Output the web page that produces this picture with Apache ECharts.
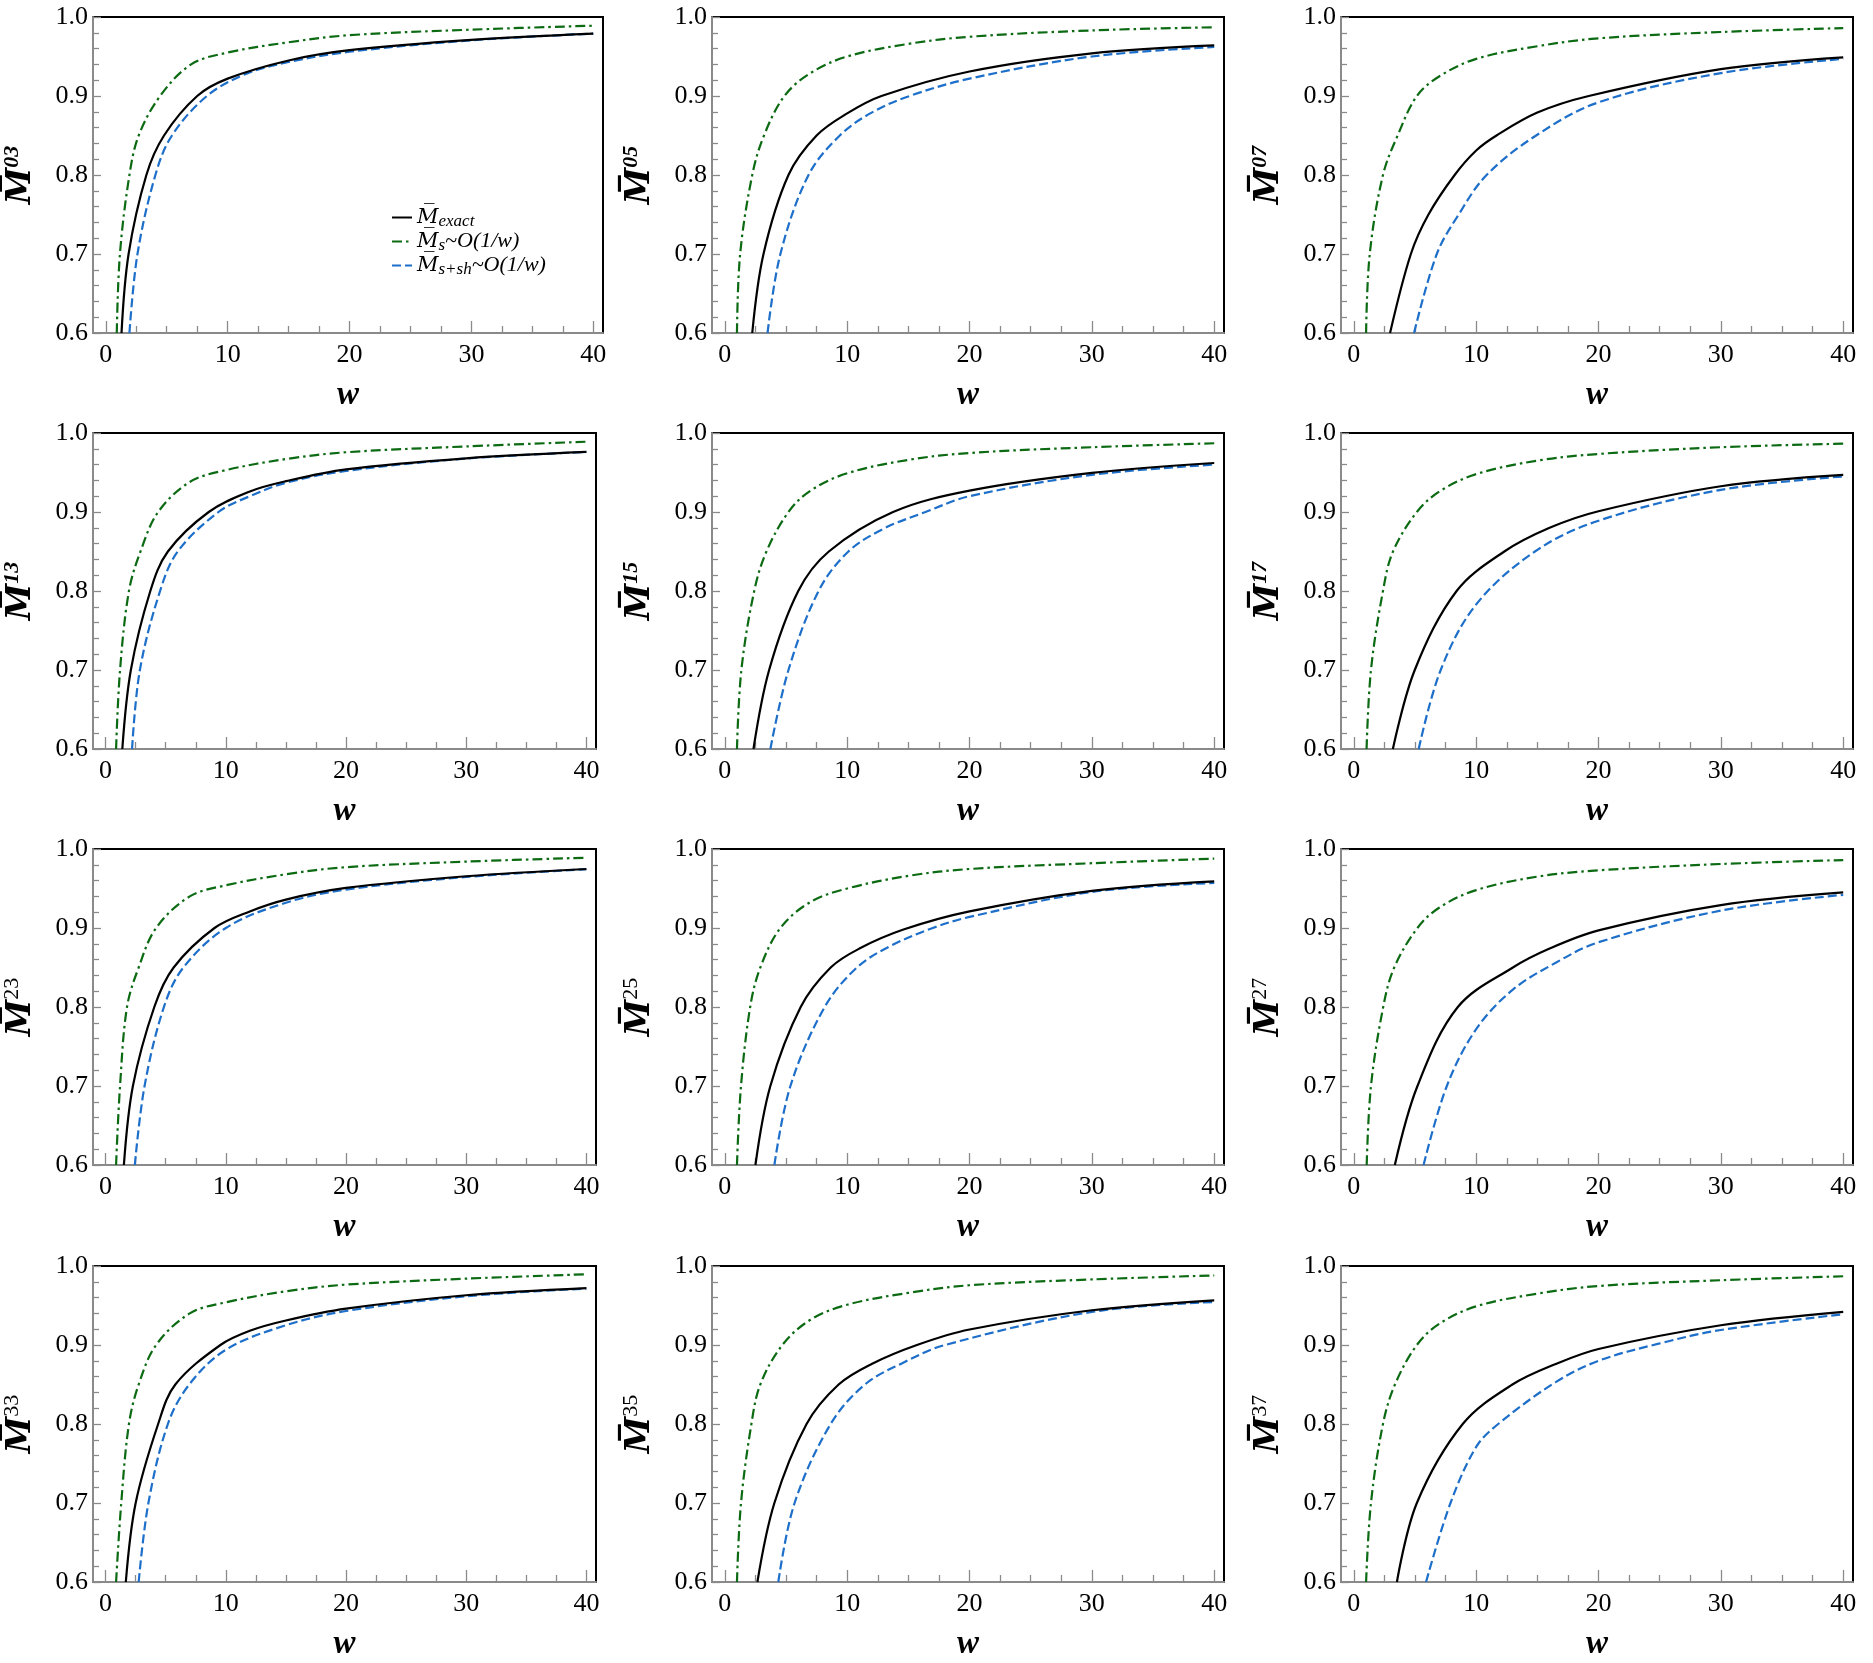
<!DOCTYPE html>
<html>
<head>
<meta charset="utf-8">
<script src="https://cdn.jsdelivr.net/npm/echarts@6/dist/echarts.min.js"></script>
<style>
  html, body { margin: 0; padding: 0; background: #fff; }
  #chart { width: 1873px; height: 1663px; }
</style>
</head>
<body>
<div id="chart"></div>
<script>
// panel superscripts, row by row
const panelIds = ['03', '05', '07', '13', '15', '17', '23', '25', '27', '33', '35', '37']
const xLabelValues = [0, 10, 20, 30, 40]
const xMinorValues = [2.5, 5, 7.5, 12.5, 15, 17.5, 22.5, 25, 27.5, 32.5, 35, 37.5]

// [w, M] points
const exactCurves = [
  [[1.29, 0.6], [1.87, 0.7], [3.33, 0.8], [4.78, 0.85], [7.5, 0.9], [10, 0.922], [15, 0.945], [20, 0.958], [30, 0.971], [40, 0.979]],
  [[2.24, 0.6], [3.16, 0.7], [5.2, 0.8], [7.5, 0.85], [10, 0.878], [12.8, 0.9], [20, 0.931], [30, 0.954], [40, 0.964]],
  [[2.96, 0.6], [4.66, 0.7], [6.1, 0.75], [8.24, 0.8], [10, 0.831], [11.66, 0.85], [15, 0.879], [19.2, 0.9], [30, 0.934], [40, 0.949]],
  [[1.39, 0.6], [2.1, 0.7], [3.72, 0.8], [5.18, 0.85], [8.58, 0.9], [12, 0.926], [15, 0.939], [20, 0.954], [30, 0.968], [40, 0.976]],
  [[2.34, 0.6], [3.62, 0.7], [6.0, 0.8], [8.5, 0.85], [13.75, 0.9], [20, 0.927], [30, 0.9495], [40, 0.962]],
  [[3.19, 0.6], [4.98, 0.7], [8.4, 0.8], [12.3, 0.85], [16, 0.88], [20, 0.901], [30, 0.9326], [40, 0.947]],
  [[1.52, 0.6], [2.27, 0.7], [4.05, 0.8], [5.66, 0.85], [9.06, 0.9], [12, 0.921], [15, 0.936], [20, 0.9507], [30, 0.9655], [40, 0.9747]],
  [[2.5, 0.6], [3.72, 0.7], [6.2, 0.8], [8.65, 0.85], [11, 0.874], [14.6, 0.898], [20, 0.921], [30, 0.947], [40, 0.959]],
  [[3.35, 0.6], [5.2, 0.7], [8.5, 0.8], [13.0, 0.85], [16, 0.874], [20, 0.897], [30, 0.929], [40, 0.945]],
  [[1.68, 0.6], [2.5, 0.7], [4.37, 0.8], [5.8, 0.85], [9.55, 0.9], [12, 0.918], [15, 0.931], [20, 0.946], [30, 0.963], [40, 0.972]],
  [[2.66, 0.6], [4.05, 0.7], [6.68, 0.8], [9.3, 0.85], [12, 0.876], [15.7, 0.9], [20, 0.9196], [30, 0.944], [40, 0.9566]],
  [[3.52, 0.6], [5.15, 0.7], [8.9, 0.8], [12.96, 0.85], [16.5, 0.876], [20, 0.895], [30, 0.925], [40, 0.942]]
]
const sCurves = [
  [[0.9, 0.6], [1.16, 0.7], [1.94, 0.8], [2.7, 0.85], [4.46, 0.9], [7, 0.94], [10, 0.955], [15, 0.968], [20, 0.977], [30, 0.984], [40, 0.989]],
  [[0.99, 0.6], [1.25, 0.7], [2.24, 0.8], [3.2, 0.85], [4.87, 0.9], [7, 0.929], [10, 0.95], [15, 0.966], [20, 0.975], [30, 0.983], [40, 0.987]],
  [[1.0, 0.6], [1.3, 0.7], [2.38, 0.8], [3.58, 0.85], [5.15, 0.9], [7, 0.925], [10, 0.947], [15, 0.963], [20, 0.973], [30, 0.981], [40, 0.986]],
  [[0.87, 0.6], [1.2, 0.7], [1.94, 0.8], [2.9, 0.85], [4.37, 0.9], [7, 0.938], [10, 0.953], [15, 0.967], [20, 0.9756], [30, 0.983], [40, 0.989]],
  [[0.99, 0.6], [1.35, 0.7], [2.4, 0.8], [3.4, 0.85], [5.2, 0.9], [7, 0.927], [10, 0.949], [15, 0.966], [20, 0.9747], [30, 0.982], [40, 0.987]],
  [[1.04, 0.6], [1.4, 0.7], [2.38, 0.8], [3.2, 0.85], [5.15, 0.9], [7, 0.926], [10, 0.948], [15, 0.965], [20, 0.9735], [30, 0.982], [40, 0.9865]],
  [[0.87, 0.6], [1.2, 0.7], [1.78, 0.8], [2.75, 0.85], [4.2, 0.9], [7, 0.94], [10, 0.954], [15, 0.968], [20, 0.977], [30, 0.984], [40, 0.989]],
  [[0.99, 0.6], [1.32, 0.7], [2.07, 0.8], [2.9, 0.85], [4.54, 0.9], [7, 0.933], [10, 0.95], [15, 0.966], [20, 0.9747], [30, 0.982], [40, 0.9878]],
  [[1.05, 0.6], [1.4, 0.7], [2.4, 0.8], [3.3, 0.85], [5.2, 0.9], [7, 0.926], [10, 0.948], [15, 0.965], [20, 0.973], [30, 0.981], [40, 0.986]],
  [[0.87, 0.6], [1.3, 0.7], [1.94, 0.8], [2.75, 0.85], [4.2, 0.9], [7, 0.94], [10, 0.954], [15, 0.968], [20, 0.9764], [30, 0.984], [40, 0.9895]],
  [[0.99, 0.6], [1.32, 0.7], [2.17, 0.8], [2.9, 0.85], [4.7, 0.9], [7, 0.932], [10, 0.951], [15, 0.966], [20, 0.9756], [30, 0.983], [40, 0.988]],
  [[1.0, 0.6], [1.4, 0.7], [2.38, 0.8], [3.36, 0.85], [5.15, 0.9], [7, 0.927], [10, 0.949], [15, 0.965], [20, 0.9747], [30, 0.982], [40, 0.987]]
]
const sshCurves = [
  [[1.94, 0.6], [2.6, 0.7], [4.07, 0.8], [5.43, 0.85], [8.3, 0.9], [11.5, 0.928], [15, 0.943], [20, 0.956], [30, 0.9705], [40, 0.979]],
  [[3.49, 0.6], [4.54, 0.7], [6.84, 0.8], [9.4, 0.85], [12, 0.879], [15.1, 0.9], [20, 0.922], [30, 0.95], [40, 0.962]],
  [[4.92, 0.6], [6.78, 0.7], [8.57, 0.75], [10.85, 0.8], [14.9, 0.85], [20, 0.892], [30, 0.929], [40, 0.947]],
  [[2.2, 0.6], [2.85, 0.7], [4.53, 0.8], [6.0, 0.85], [9.39, 0.9], [12, 0.92], [15, 0.937], [20, 0.952], [30, 0.9676], [40, 0.976]],
  [[3.72, 0.6], [5.2, 0.7], [7.66, 0.8], [10.1, 0.85], [13, 0.879], [16.4, 0.9], [20, 0.92], [30, 0.947], [40, 0.96]],
  [[5.3, 0.6], [7.1, 0.7], [10, 0.783], [14.8, 0.85], [20, 0.889], [30, 0.928], [40, 0.945]],
  [[2.43, 0.6], [3.24, 0.7], [4.85, 0.8], [6.47, 0.85], [10, 0.9], [15, 0.932], [20, 0.9486], [30, 0.9646], [40, 0.9743]],
  [[4.05, 0.6], [5.36, 0.7], [8.16, 0.8], [10.8, 0.85], [13.5, 0.877], [17, 0.9], [20, 0.914], [30, 0.9457], [40, 0.957]],
  [[5.7, 0.6], [7.6, 0.7], [10, 0.772], [13, 0.822], [16.5, 0.856], [20, 0.882], [30, 0.922], [40, 0.942]],
  [[2.75, 0.6], [3.56, 0.7], [5.18, 0.8], [6.96, 0.85], [10, 0.894], [15, 0.925], [20, 0.943], [30, 0.9617], [40, 0.9714]],
  [[4.37, 0.6], [5.7, 0.7], [8.65, 0.8], [11.45, 0.85], [14.5, 0.877], [18, 0.9], [30, 0.9419], [40, 0.9545]],
  [[5.9, 0.6], [7.9, 0.7], [10, 0.771], [11.8, 0.8], [16.5, 0.853], [20, 0.88], [25, 0.902], [30, 0.919], [40, 0.939]]
]

const chart = echarts.init(document.getElementById('chart'), null, { renderer: 'canvas' })

const serif = 'Liberation Serif'
const axisGray = '#8a8a8a'
const colLeft = [84, 712, 1341]
const plotWidth = 512
const rowTop = [17, 433, 849, 1266]
const plotHeight = 316

const grids = []
const xAxes = []
const yAxes = []
const series = []

panelIds.forEach((id, i) => {
  const row = Math.floor(i / 3)
  const col = i % 3
  const left = (row === 0 && col === 0) ? 91 : colLeft[col]

  grids.push({
    left, top: rowTop[row], width: plotWidth, height: plotHeight,
    show: true, borderColor: '#000', borderWidth: 2, backgroundColor: 'transparent'
  })

  const xBase = { gridIndex: i, type: 'value', min: -1.05, max: 40.8, position: 'bottom', z: 1, splitLine: { show: false } }
  xAxes.push({
    ...xBase,
    axisLine: { show: true, onZero: false, lineStyle: { color: axisGray, width: 2 } },
    axisTick: { show: true, inside: true, length: 12, customValues: xLabelValues, lineStyle: { color: axisGray, width: 1.3 } },
    axisLabel: { customValues: xLabelValues, margin: 9, color: '#000', fontFamily: serif, fontSize: 26 },
    name: 'w', nameLocation: 'middle', nameGap: 46,
    nameTextStyle: { fontFamily: serif, fontStyle: 'italic', fontWeight: 'bold', fontSize: 33, color: '#000' }
  })
  xAxes.push({
    ...xBase,
    axisLine: { show: false },
    axisLabel: { show: false },
    axisTick: { show: true, inside: true, length: 7, customValues: xMinorValues, lineStyle: { color: axisGray, width: 1.3 } }
  })

  const supStyle = row < 2 ? 'supB' : 'supR'
  yAxes.push({
    gridIndex: i, type: 'value', min: 0.6, max: 1.0, interval: 0.1, z: 1,
    axisLine: { show: true, onZero: false, lineStyle: { color: axisGray, width: 2 } },
    axisTick: { show: true, inside: true, length: 8, lineStyle: { color: axisGray, width: 1.3 } },
    minorTick: { show: true, splitNumber: 5, length: 6, lineStyle: { color: axisGray, width: 1.3 } },
    splitLine: { show: false },
    minorSplitLine: { show: false },
    axisLabel: { formatter: v => v.toFixed(1), margin: 5, color: '#000', fontFamily: serif, fontSize: 26 },
    name: `{m|M\u0305}{${supStyle}|${id}}`,
    nameLocation: 'middle', nameRotate: 90, nameGap: 52,
    nameTextStyle: {
      color: '#000',
      rich: {
        m: { fontFamily: 'DejaVu Serif', fontStyle: 'italic', fontWeight: 'bold', fontSize: 33, lineHeight: 40, color: '#000' },
        supB: { fontFamily: serif, fontStyle: 'italic', fontWeight: 'bold', fontSize: 22, lineHeight: 22, verticalAlign: 'top', color: '#000' },
        supR: { fontFamily: serif, fontSize: 22, lineHeight: 22, verticalAlign: 'top', color: '#000' }
      }
    }
  })

  const common = {
    type: 'line', xAxisIndex: 2 * i, yAxisIndex: i,
    symbol: 'none', showSymbol: false, smooth: 0.35,
    clip: true, silent: true, animation: false
  }
  series.push({
    ...common, name: 'ssh', data: sshCurves[i],
    itemStyle: { color: '#1d6fca' },
    lineStyle: { color: '#1d6fca', width: 2.2, type: [9, 4] }
  })
  series.push({
    ...common, name: 's', data: sCurves[i],
    itemStyle: { color: '#0b6a12' },
    lineStyle: { color: '#0b6a12', width: 2.2, type: [10, 4, 2.5, 4] }
  })
  series.push({
    ...common, name: 'exact', data: exactCurves[i],
    itemStyle: { color: '#000' },
    lineStyle: { color: '#000', width: 2.2 }
  })
})

const legendText = {
  exact: '{m|M\u0305}{sub|exact}',
  s: '{m|M\u0305}{sub|s}{t|~O(1/w)}',
  ssh: '{m|M\u0305}{sub|s+sh}{t|~O(1/w)}'
}

const option = {
  backgroundColor: '#fff',
  animation: false,
  grid: grids,
  xAxis: xAxes,
  yAxis: yAxes,
  legend: {
    data: ['exact', 's', 'ssh'],
    orient: 'vertical',
    left: 386, top: 202,
    itemWidth: 20, itemHeight: 12, itemGap: 0,
    selectedMode: false,
    itemStyle: { color: 'transparent', borderWidth: 0, opacity: 0 },
    formatter: name => legendText[name],
    textStyle: {
      color: '#000',
      rich: {
        m: { fontFamily: 'DejaVu Serif', fontStyle: 'italic', fontSize: 21, lineHeight: 26, color: '#000' },
        sub: { fontFamily: serif, fontStyle: 'italic', fontSize: 17, lineHeight: 17, verticalAlign: 'bottom', color: '#000' },
        t: { fontFamily: serif, fontStyle: 'italic', fontSize: 22, lineHeight: 26, color: '#000' }
      }
    }
  },
  series
}

chart.setOption(option)
</script>
</body>
</html>
